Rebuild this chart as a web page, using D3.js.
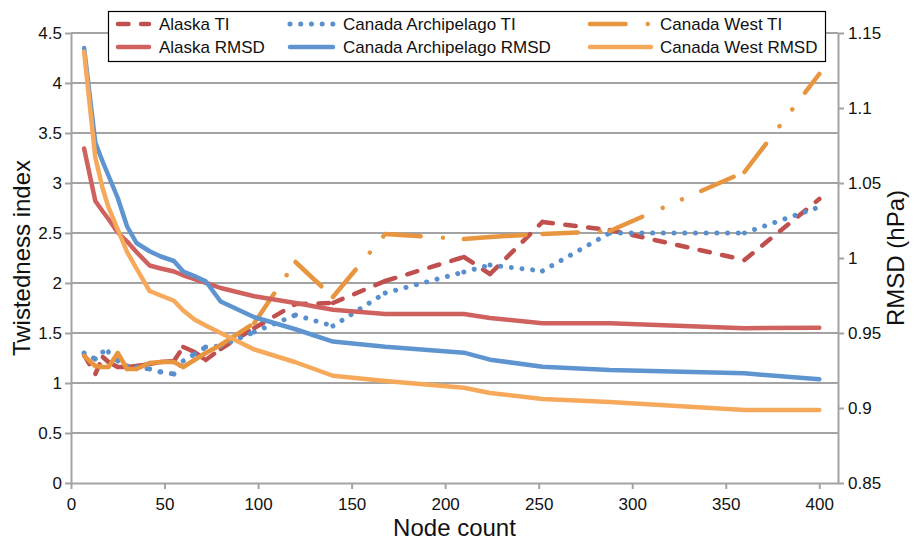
<!DOCTYPE html>
<html>
<head>
<meta charset="utf-8">
<script src="https://cdn.jsdelivr.net/npm/d3@7/dist/d3.min.js"></script>
<style>
  body { margin: 0; background: #fff; }
  svg { display: block; }
  text { font-family: "Liberation Sans", Arial, Helvetica, sans-serif; fill: #111; }
</style>
</head>
<body>
<svg id="chart" width="915" height="541"></svg>
<script>
// Node counts shared by every series
const nodeCount = [7, 13, 17, 20, 25, 30, 35, 42, 48, 55, 60, 66, 72, 80, 98, 120, 140, 168, 210, 224, 252, 288, 360, 400];

// Twistedness index (left axis)
const alaskaTI      = [1.28, 1.09, 1.26, 1.21, 1.16, 1.16, 1.17, 1.19, 1.21, 1.22, 1.36, 1.31, 1.23, 1.34, 1.55, 1.79, 1.80, 2.02, 2.26, 2.09, 2.61, 2.53, 2.23, 2.84];
const archipelagoTI = [1.30, 1.24, 1.31, 1.31, 1.22, 1.17, 1.16, 1.14, 1.11, 1.09, 1.22, 1.29, 1.36, 1.37, 1.51, 1.68, 1.57, 1.90, 2.11, 2.18, 2.12, 2.50, 2.50, 2.76];
const westTI        = [1.27, 1.17, 1.16, 1.16, 1.30, 1.14, 1.14, 1.20, 1.21, 1.21, 1.16, 1.23, 1.30, 1.38, 1.60, 2.21, 1.86, 2.49, 2.44, 2.46, 2.49, 2.52, 3.11, 4.09];

// RMSD in hPa (right axis)
const alaskaRMSD      = [1.073, 1.038, 1.031, 1.026, 1.017, 1.011, 1.004, 0.995, 0.993, 0.991, 0.9885, 0.986, 0.9835, 0.980, 0.9745, 0.970, 0.9655, 0.9627, 0.9627, 0.960, 0.9565, 0.9565, 0.9532, 0.9535];
const archipelagoRMSD = [1.140, 1.077, 1.064, 1.055, 1.040, 1.021, 1.010, 1.0045, 1.001, 0.998, 0.991, 0.988, 0.9845, 0.971, 0.9605, 0.9525, 0.9443, 0.9408, 0.9369, 0.9322, 0.9275, 0.9253, 0.9231, 0.9191];
const westRMSD        = [1.1375, 1.067, 1.046, 1.034, 1.019, 1.004, 0.993, 0.978, 0.975, 0.9715, 0.965, 0.959, 0.955, 0.950, 0.939, 0.9305, 0.9215, 0.918, 0.9135, 0.910, 0.906, 0.904, 0.8987, 0.8987];

// Tick values
const xTicks = [0, 50, 100, 150, 200, 250, 300, 350, 400];
const tiTicks = [0, 0.5, 1, 1.5, 2, 2.5, 3, 3.5, 4, 4.5];
const rmsdTicks = [0.85, 0.9, 0.95, 1, 1.05, 1.1, 1.15];

const svg = d3.select("#chart");
const box = { left: 71, right: 838, top: 33, bottom: 483 };
const gridColor = "#a3a3a3";

const x = d3.scaleLinear().domain([0, 410]).range([box.left, box.right]);
const yTI = d3.scaleLinear().domain([0, 4.5]).range([box.bottom, box.top]);
const yRMSD = d3.scaleLinear().domain([0.85, 1.15]).range([box.bottom, box.top]);

// Horizontal gridlines at the twistedness ticks
svg.append("g").selectAll("line")
  .data(tiTicks.filter(t => t > 0))
  .join("line")
  .attr("x1", box.left).attr("x2", box.right)
  .attr("y1", d => yTI(d)).attr("y2", d => yTI(d))
  .attr("stroke", gridColor).attr("stroke-width", 2);

function styleAxis(g) {
  g.select(".domain").attr("stroke", gridColor).attr("stroke-width", 2);
  g.selectAll(".tick line").attr("stroke", gridColor).attr("stroke-width", 2);
  g.selectAll(".tick text").attr("fill", "#111").style("font-size", "17px")
    .style("font-family", '"Liberation Sans", Arial, Helvetica, sans-serif');
}

svg.append("g")
  .attr("transform", `translate(${box.left},0)`)
  .call(d3.axisLeft(yTI).tickValues(tiTicks).tickFormat(d3.format("~g")).tickSize(6).tickSizeOuter(0).tickPadding(3))
  .call(styleAxis);

svg.append("g")
  .attr("transform", `translate(${box.right},0)`)
  .call(d3.axisRight(yRMSD).tickValues(rmsdTicks).tickFormat(d3.format("~g")).tickSize(6).tickSizeOuter(0).tickPadding(4))
  .call(styleAxis);

svg.append("g")
  .attr("transform", `translate(0,${box.bottom})`)
  .call(d3.axisBottom(x).tickValues(xTicks).tickFormat(d3.format("d")).tickSize(6).tickSizeOuter(0).tickPadding(9))
  .call(styleAxis);

// Series definitions
const series = [
  { name: "Alaska TI", values: alaskaTI, y: yTI, color: "#c0504d", dash: "10.5 12.5", width: 4.5 },
  { name: "Canada Archipelago TI", values: archipelagoTI, y: yTI, color: "#5a8fce", dash: "0.01 10.7", width: 5 },
  { name: "Canada West TI", values: westTI, y: yTI, color: "#e8953f", dash: "35.5 22.25 0.01 21 0.01 21", width: 4.5 },
  { name: "Alaska RMSD", values: alaskaRMSD, y: yRMSD, color: "#cf625e", dash: null, width: 4.5 },
  { name: "Canada Archipelago RMSD", values: archipelagoRMSD, y: yRMSD, color: "#5e95d1", dash: null, width: 4.5 },
  { name: "Canada West RMSD", values: westRMSD, y: yRMSD, color: "#f6a95b", dash: null, width: 4.5 }
];

const line = d3.line();
const plot = svg.append("g");

series.forEach(s => {
  const pts = nodeCount.map((n, i) => [x(n), s.y(s.values[i])]);
  if (s.dash) {
    // the dash pattern restarts at every data point
    plot.append("g").selectAll("path")
      .data(d3.pairs(pts))
      .join("path")
      .attr("d", d => line(d))
      .attr("fill", "none")
      .attr("stroke", s.color)
      .attr("stroke-width", s.width)
      .attr("stroke-linecap", "round")
      .attr("stroke-dasharray", s.dash);
  } else {
    plot.append("path")
      .attr("d", line(pts))
      .attr("fill", "none")
      .attr("stroke", s.color)
      .attr("stroke-width", s.width)
      .attr("stroke-linejoin", "round")
      .attr("stroke-linecap", "round");
  }
});

// Legend
const legend = svg.append("g");
legend.append("rect")
  .attr("x", 108.5).attr("y", 11.5).attr("width", 717).attr("height", 50)
  .attr("fill", "#fff").attr("stroke", "#000").attr("stroke-width", 1.2);

const legendCols = [
  { x1: 118, x2: 149, tx: 159 },
  { x1: 290, x2: 333, tx: 343 },
  { x1: 590, x2: 651, tx: 660 }
];
const legendRows = [24, 47];
const legendOrder = [
  ["Alaska TI", "Canada Archipelago TI", "Canada West TI"],
  ["Alaska RMSD", "Canada Archipelago RMSD", "Canada West RMSD"]
];
legendOrder.forEach((row, r) => {
  row.forEach((name, c) => {
    const s = series.find(d => d.name === name);
    const col = legendCols[c], cy = legendRows[r];
    legend.append("line")
      .attr("x1", col.x1).attr("x2", col.x2).attr("y1", cy).attr("y2", cy)
      .attr("stroke", s.color).attr("stroke-width", s.width)
      .attr("stroke-linecap", "round")
      .attr("stroke-dasharray", s.dash);
    legend.append("text")
      .attr("x", col.tx).attr("y", cy + 6)
      .style("font-size", "17px")
      .text(name);
  });
});

// Axis titles
svg.append("text")
  .attr("transform", `translate(30,${(box.top + box.bottom) / 2}) rotate(-90)`)
  .attr("text-anchor", "middle")
  .style("font-size", "24px")
  .text("Twistedness index");

svg.append("text")
  .attr("transform", `translate(904,${(box.top + box.bottom) / 2}) rotate(-90)`)
  .attr("text-anchor", "middle")
  .style("font-size", "24px")
  .text("RMSD (hPa)");

svg.append("text")
  .attr("x", (box.left + box.right) / 2).attr("y", 536)
  .attr("text-anchor", "middle")
  .style("font-size", "24px")
  .text("Node count");
</script>
</body>
</html>
